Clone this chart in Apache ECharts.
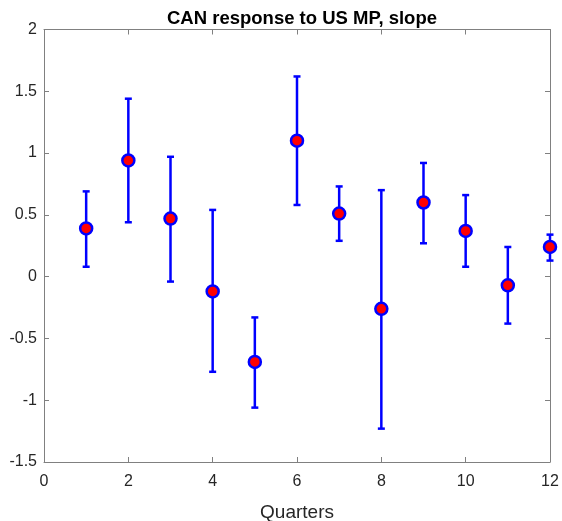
<!DOCTYPE html>
<html>
<head>
<meta charset="utf-8">
<script src="https://cdn.jsdelivr.net/npm/echarts@6/dist/echarts.min.js"></script>
<style>
  html, body { margin: 0; padding: 0; background: #ffffff; }
  #main { width: 562px; height: 521px; }
</style>
</head>
<body>
<div id="main"></div>
<script>
// values
var quarters = [1, 2, 3, 4, 5, 6, 7, 8, 9, 10, 11, 12];
var estimate = [0.39, 0.94, 0.47, -0.12, -0.69, 1.10, 0.51, -0.26, 0.60, 0.37, -0.07, 0.24];
var lower = [0.08, 0.44, -0.04, -0.77, -1.06, 0.58, 0.29, -1.23, 0.27, 0.08, -0.38, 0.13];
var upper = [0.69, 1.44, 0.97, 0.54, -0.33, 1.62, 0.73, 0.70, 0.92, 0.66, 0.24, 0.34];

var chart = echarts.init(document.getElementById('main'), null, { renderer: 'canvas' });

var pointData = quarters.map(function (q, i) { return [q, estimate[i]]; });
var barData = quarters.map(function (q, i) { return [q, lower[i], upper[i]]; });

var axisColor = '#808080';
var labelColor = '#262626';
var font = 'Liberation Sans, Arial, Helvetica, sans-serif';

function renderErrorBar(params, api) {
    var x = api.value(0);
    var lo = api.coord([x, api.value(1)]);
    var hi = api.coord([x, api.value(2)]);
    var cap = 3.5;
    var style = { stroke: '#0000ff', lineWidth: 2.5 };
    return {
        type: 'group',
        children: [
            { type: 'line', shape: { x1: hi[0], y1: hi[1], x2: lo[0], y2: lo[1] }, style: style },
            { type: 'line', shape: { x1: hi[0] - cap, y1: hi[1], x2: hi[0] + cap, y2: hi[1] }, style: style },
            { type: 'line', shape: { x1: lo[0] - cap, y1: lo[1], x2: lo[0] + cap, y2: lo[1] }, style: style }
        ]
    };
}

var xBase = {
    type: 'value', min: 0, max: 12, interval: 2,
    axisLine: { show: true, onZero: false, lineStyle: { color: axisColor, width: 1 } },
    axisTick: { show: true, inside: true, length: 5, lineStyle: { color: axisColor } },
    splitLine: { show: false }
};
var yBase = {
    type: 'value', min: -1.5, max: 2, interval: 0.5,
    axisLine: { show: true, onZero: false, lineStyle: { color: axisColor, width: 1 } },
    axisTick: { show: true, inside: true, length: 5, lineStyle: { color: axisColor } },
    splitLine: { show: false }
};

var option = {
    backgroundColor: '#ffffff',
    animation: false,
    title: {
        text: 'CAN response to US MP, slope',
        left: 297,
        textAlign: 'center',
        top: 4,
        textStyle: { fontFamily: font, fontSize: 18.5, fontWeight: 'bold', color: '#000000' }
    },
    grid: { left: 44, right: 12, top: 29.5, bottom: 59, outerBoundsMode: 'none', containLabel: false },
    xAxis: [
        Object.assign({}, xBase, {
            position: 'bottom',
            name: 'Quarters',
            nameLocation: 'middle',
            nameGap: 41,
            nameTextStyle: { fontFamily: font, fontSize: 19, color: labelColor },
            axisLabel: { show: true, margin: 12, fontFamily: font, fontSize: 16, color: labelColor }
        }),
        Object.assign({}, xBase, { position: 'top', axisLabel: { show: false } })
    ],
    yAxis: [
        Object.assign({}, yBase, {
            position: 'left',
            axisLabel: { show: true, margin: 7, fontFamily: font, fontSize: 16, color: labelColor }
        }),
        Object.assign({}, yBase, { position: 'right', axisLabel: { show: false } })
    ],
    series: [{
        type: 'custom',
        renderItem: renderErrorBar,
        encode: { x: 0, y: [1, 2] },
        data: barData,
        clip: false,
        z: 2
    }, {
        type: 'scatter',
        data: pointData,
        symbol: 'circle',
        symbolSize: 12,
        clip: false,
        itemStyle: { color: '#ff0000', borderColor: '#0000ff', borderWidth: 2.5, opacity: 1 },
        z: 3
    }]
};

chart.setOption(option);
</script>
</body>
</html>
